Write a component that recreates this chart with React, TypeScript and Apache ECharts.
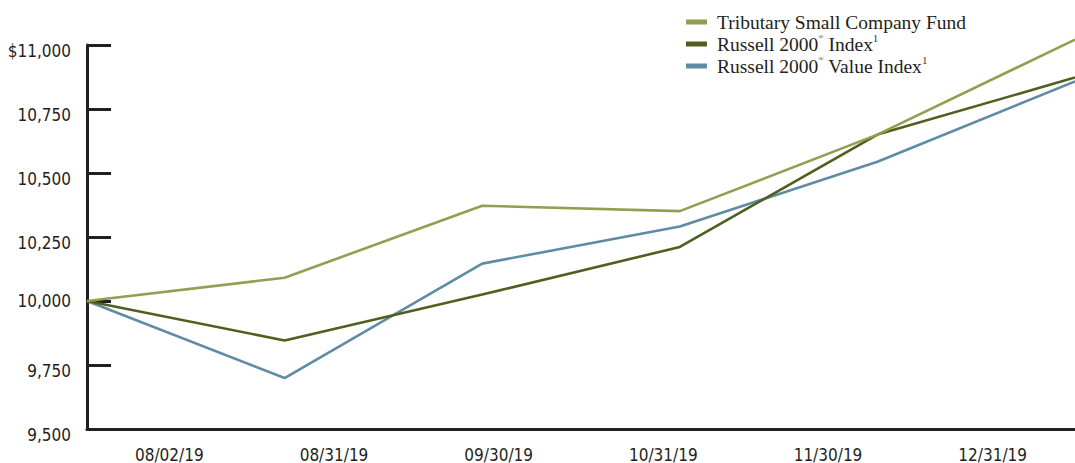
import React, { useEffect, useRef } from "react";
import * as echarts from "echarts";

const dates = ["08/02/19", "08/31/19", "09/30/19", "10/31/19", "11/30/19", "12/31/19"];
const tributary = [10000, 10091, 10372, 10351, 10650, 11021];
const russell2000 = [10000, 9846, 10025, 10211, 10650, 10873];
const russellValue = [10000, 9699, 10146, 10291, 10544, 10858];
const yTicks = [9500, 9750, 10000, 10250, 10500, 10750, 11000];

const C_TRIB = "#8fa050";
const C_R2000 = "#505f1e";
const C_VALUE = "#5f8ca5";
const AXIS = "#231f20";
const SANS = "'DejaVu Sans Condensed', 'Liberation Sans Narrow', 'DejaVu Sans', sans-serif";
const SERIF = "'Liberation Serif', 'DejaVu Serif', serif";

export default function App() {
  const ref = useRef<HTMLDivElement>(null);
  useEffect(() => {
    document.body.style.margin = "0";
    if (!ref.current) return;
    const chart = echarts.init(ref.current, null, { renderer: "svg" });
    const fmtY = (v: number) => {
      const s = v.toLocaleString("en-US");
      const t = v === yTicks[yTicks.length - 1] ? "$" + s : s;
      return v === 10000 ? "{z|" + t + "}" : "{d|" + t + "}";
    };
    const labelBase = { fontFamily: SANS, fontSize: 17, color: AXIS };
    const rich = {
      p: { width: 5, fontSize: 19 },
      a: { fontFamily: SERIF, fontSize: 19.5, color: AXIS },
      s: { fontFamily: SERIF, fontSize: 10, color: AXIS, verticalAlign: "top" as const },
      r: { fontFamily: SERIF, fontSize: 7, color: AXIS, verticalAlign: "top" as const },
    };
    chart.setOption({
      animation: false,
      grid: { left: 87, right: 0, top: 45, bottom: 34, containLabel: false },
      legend: {
        orient: "vertical",
        left: 681,
        top: 6,
        icon: "rect",
        itemWidth: 21,
        itemHeight: 5,
        itemGap: 0,
        textStyle: { fontFamily: SERIF, fontSize: 19.5, color: AXIS, lineHeight: 22, rich },
        formatter: (name: string) => {
          if (name === "Tributary Small Company Fund") return "{p|}{a|" + name + "}";
          if (name === "Russell 2000® Index¹") return "{p|}{a|Russell 2000}{r|®}{a| Index}{s|1}";
          return "{p|}{a|Russell 2000}{r|®}{a| Value Index}{s|1}";
        },
        data: ["Tributary Small Company Fund", "Russell 2000® Index¹", "Russell 2000® Value Index¹"],
      },
      xAxis: [
        {
          type: "category",
          data: dates,
          boundaryGap: true,
          axisLine: { lineStyle: { color: AXIS, width: 3 } },
          axisTick: { inside: true, length: 8, lineStyle: { color: AXIS, width: 2 } },
          axisLabel: { ...labelBase, margin: 17 },
          splitLine: { show: false },
        },
        {
          type: "category",
          data: dates,
          boundaryGap: false,
          show: false,
        },
      ],
      yAxis: {
        type: "value",
        min: 9500,
        max: 11000,
        interval: 250,
        axisLine: { show: true, lineStyle: { color: AXIS, width: 3 } },
        axisTick: { show: true, inside: true, length: 24, lineStyle: { color: AXIS, width: 3 } },
        splitLine: { show: false },
        axisLabel: {
          ...labelBase,
          margin: 16,
          formatter: fmtY,
          rich: {
            d: { ...labelBase, padding: [12, 0, 0, 0] },
            z: { ...labelBase },
          },
        },
      },
      series: [
        {
          name: "Tributary Small Company Fund",
          type: "line",
          xAxisIndex: 1,
          data: tributary,
          symbol: "none",
          clip: false,
          lineStyle: { color: C_TRIB, width: 2.6 },
          itemStyle: { color: C_TRIB },
          z: 3,
        },
        {
          name: "Russell 2000® Index¹",
          type: "line",
          xAxisIndex: 1,
          data: russell2000,
          symbol: "none",
          clip: false,
          lineStyle: { color: C_R2000, width: 2.6 },
          itemStyle: { color: C_R2000 },
          z: 2,
        },
        {
          name: "Russell 2000® Value Index¹",
          type: "line",
          xAxisIndex: 1,
          data: russellValue,
          symbol: "none",
          clip: false,
          lineStyle: { color: C_VALUE, width: 2.6 },
          itemStyle: { color: C_VALUE },
          z: 1,
        },
      ],
    });
    return () => chart.dispose();
  }, []);
  return <div ref={ref} style={{ width: 1075, height: 463 }} />;
}
